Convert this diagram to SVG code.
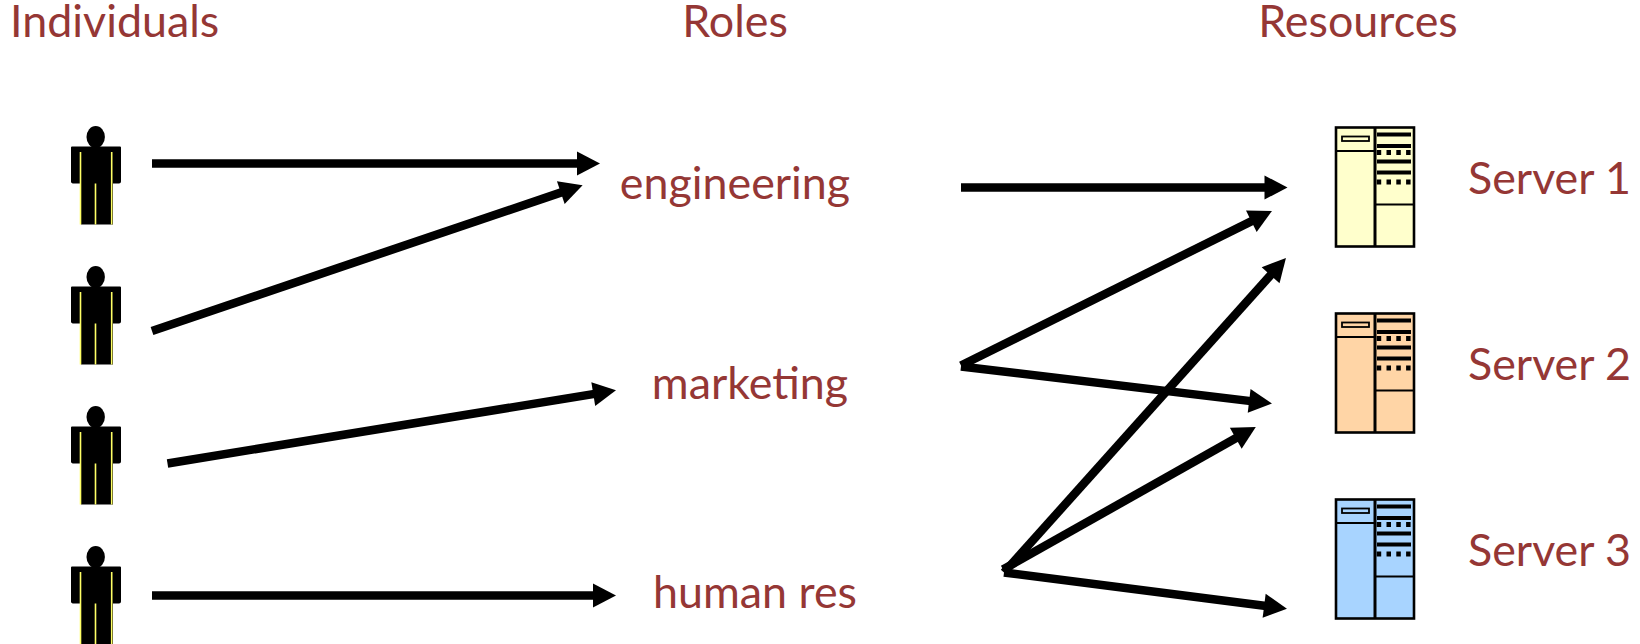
<svg xmlns="http://www.w3.org/2000/svg" xmlns:xlink="http://www.w3.org/1999/xlink" width="1640" height="644" viewBox="0 0 1640 644">
<style>
text{font-family:"Lato","Liberation Sans",sans-serif;font-size:44.800px;fill:#953735}
.c{stroke:#000;stroke-width:8.500;fill:none;marker-end:url(#ah)}
.o{stroke:#000;fill:none}
</style>
<defs>
<marker id="ah" markerUnits="userSpaceOnUse" markerWidth="26" markerHeight="26" refX="6" refY="12" orient="auto" overflow="visible"><path d="M0,0L23,12L0,24L0,0Z" fill="#000"/></marker>
<g id="person">
<ellipse cx="95.7" cy="137" rx="9.2" ry="11"/>
<path d="M72,146.500H120Q121,146.500 121,147.500V181.500Q121,183.500 119,183.500H113V224.500H81V183.500H74Q71,183.500 71,181.500V147.500Q71,146.500 72,146.500Z"/>
<path d="M80.500,152V224.500M95.500,183.500V224.500M111.700,152V224.500" stroke="#ffff66" stroke-width="1.600" fill="none"/>
</g>
<g id="server">
<rect x="1336" y="127.500" width="78" height="119" fill="var(--f)" stroke="none"/>
<rect x="1336" y="127.500" width="78" height="119" class="o" stroke-width="2.600"/>
<path class="o" stroke-width="2.200" d="M1336,151H1375M1375,204.500H1414"/>
<path class="o" stroke-width="3" d="M1375,127.500V246.500"/>
<rect x="1342" y="136.500" width="27" height="4.500" class="o" stroke-width="1.800"/>
<path class="o" stroke-width="3.800" d="M1377,134.500H1411M1377,146H1411M1377,161.500H1411M1377,172.500H1411"/>
<path class="o" stroke-width="5" stroke-dasharray="4.500 5.300" d="M1376.700,152.500H1411M1376.700,182H1411"/>
</g>
</defs>
<g id="headers">
<text x="10" y="37">Individuals</text>
<text x="735" y="37" text-anchor="middle">Roles</text>
<text x="1358" y="37" text-anchor="middle">Resources</text>
</g>
<g id="individual-1"><use href="#person"/></g>
<g id="individual-2"><use href="#person" y="140"/></g>
<g id="individual-3"><use href="#person" y="280"/></g>
<g id="individual-4"><use href="#person" y="420"/></g>
<g id="role-engineering"><text x="735" y="199" text-anchor="middle">engineering</text></g>
<g id="role-marketing"><text x="750" y="399" text-anchor="middle">marketing</text></g>
<g id="role-human-res"><text x="755" y="608" text-anchor="middle">human res</text></g>
<g id="server-1"><use href="#server" style="--f:#ffffcc"/><text x="1468" y="194">Server 1</text></g>
<g id="server-2"><use href="#server" y="186" style="--f:#ffd5a6"/><text x="1468" y="380">Server 2</text></g>
<g id="server-3"><use href="#server" y="372" style="--f:#a8d4ff"/><text x="1468" y="566">Server 3</text></g>
<g id="connectors">
<line class="c" x1="152" y1="163.500" x2="583" y2="163.500"/>
<line class="c" x1="152" y1="331" x2="566.500" y2="190.600"/>
<line class="c" x1="167.500" y1="463.500" x2="599.200" y2="393.100"/>
<line class="c" x1="152" y1="595.500" x2="599" y2="595.500"/>
<line class="c" x1="961" y1="187.500" x2="1270.500" y2="187.500"/>
<line class="c" x1="961" y1="365.500" x2="1256.700" y2="218.600"/>
<line class="c" x1="961" y1="366.500" x2="1255.100" y2="401.600"/>
<line class="c" x1="1004" y1="572.500" x2="1274.600" y2="270.700"/>
<line class="c" x1="1003" y1="569.500" x2="1241" y2="435.300"/>
<line class="c" x1="1004" y1="572.500" x2="1270.100" y2="606.500"/>
</g>
</svg>
